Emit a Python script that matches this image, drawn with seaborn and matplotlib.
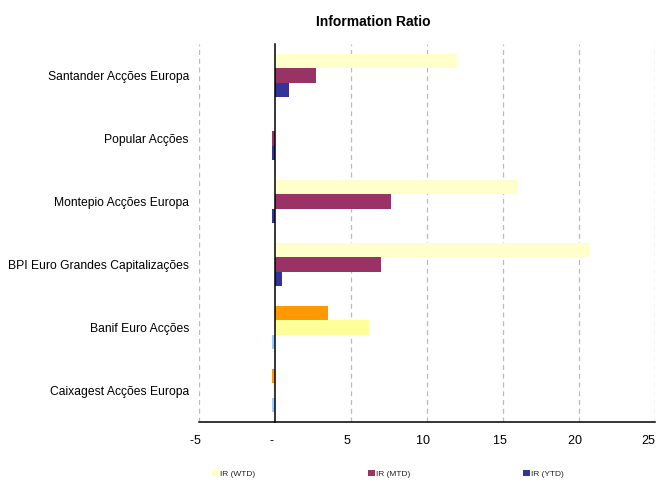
import matplotlib
matplotlib.use("Agg")
import matplotlib.pyplot as plt
import seaborn as sns
import pandas as pd
from matplotlib.patches import Patch
from matplotlib.ticker import FixedLocator

categories = ["Santander Acções Europa", "Popular Acções", "Montepio Acções Europa",
              "BPI Euro Grandes Capitalizações", "Banif Euro Acções", "Caixagest Acções Europa"]
series = ["IR (WTD)", "IR (MTD)", "IR (YTD)"]
ir_wtd = [12.0, 0.05, 15.9, 20.7, 3.5, -0.2]
ir_mtd = [2.7, -0.2, 7.6, 7.0, 6.2, -0.12]
ir_ytd = [0.94, -0.2, -0.2, 0.46, -0.2, -0.18]
xticks = [-5, 0, 5, 10, 15, 20, 25]
xticklabels = ["-5", "-", "5", "10", "15", "20", "25"]

colors = ["#FFFFCC", "#993366", "#333399"]
alt_colors = ["#FF9900", "#FFFF99", "#99CCFF"]

rows = []
for c, w, m, y in zip(categories, ir_wtd, ir_mtd, ir_ytd):
    rows += [(c, series[0], w), (c, series[1], m), (c, series[2], y)]
df = pd.DataFrame(rows, columns=["cat", "series", "val"])

sns.set_style("white")
plt.rcParams["font.family"] = ["Liberation Sans", "DejaVu Sans"]
plt.rcParams["text.color"] = "black"
plt.rcParams["xtick.color"] = "black"
plt.rcParams["ytick.color"] = "black"

fig = plt.figure(figsize=(6.6, 4.83), dpi=100)
ax = fig.add_axes([199/660, 1-422/483, 456/660, 378/483])

sns.barplot(data=df, y="cat", x="val", hue="series", order=categories,
            hue_order=series, palette=colors, width=0.667, orient="h",
            ax=ax, legend=False, saturation=1, edgecolor="none", linewidth=0)

# alternate colouring for the last two categories
for si, cont in enumerate(ax.containers):
    for ci, bar in enumerate(cont):
        if ci >= 4:
            bar.set_facecolor(alt_colors[si])
        bar.set_zorder(1.5)

ax.set_xlim(-5, 25)
ax.set_ylim(5.5, -0.5)
ax.set_xticks(xticks)
# trailing spaces nudge the labels slightly left, as in the reference
labels = [t + "  " for t in xticklabels[:-1]] + [xticklabels[-1]]
ax.set_xticklabels(labels, fontsize=9)
ax.get_xticklabels()[-1].set_horizontalalignment("right")
ax.set_xlabel("")
ax.set_ylabel("")

for x in [-5, 5, 10, 15, 20, 25]:
    ax.axvline(x, color="#BBBBBB", linestyle=(0, (4, 3)), linewidth=0.9, zorder=0)

for s in ["top", "right"]:
    ax.spines[s].set_visible(False)
ax.spines["left"].set_position(("data", 0))
ax.spines["left"].set_color("black")
ax.spines["left"].set_linewidth(1.1)
ax.spines["left"].set_zorder(3)
ax.spines["bottom"].set_color("black")
ax.spines["bottom"].set_linewidth(1.1)

ax.set_yticks(range(len(categories)))
ax.set_yticklabels(categories, fontsize=8.7)
ax.yaxis.set_minor_locator(FixedLocator([i - 0.5 for i in range(len(categories) + 1)]))
ax.tick_params(axis="y", which="major", length=0, pad=62, labelcolor="black")
ax.tick_params(axis="y", which="minor", length=3, width=1, direction="out", color="black")
ax.tick_params(axis="x", which="major", length=4, width=1, direction="out", color="black",
               pad=5, labelcolor="black")

fig.text(373/660, 1-22/483, "Information Ratio", ha="center", va="center",
         fontsize=10, fontweight="bold", color="black",
         family=["Liberation Sans Narrow", "Liberation Sans", "DejaVu Sans"])

handles = [Patch(facecolor=c, edgecolor="none") for c in colors]
leg = fig.legend(handles, series, loc="center", bbox_to_anchor=(388/660, 1-474/483),
                 ncol=3, frameon=False, handlelength=0.8, handleheight=0.8,
                 handletextpad=0.2, columnspacing=13.5,
                 prop={"family": ["Liberation Sans Narrow", "Liberation Sans"], "size": 6})
for t in leg.get_texts():
    t.set_color("#222222")

fig.savefig("out.png", dpi=100)
